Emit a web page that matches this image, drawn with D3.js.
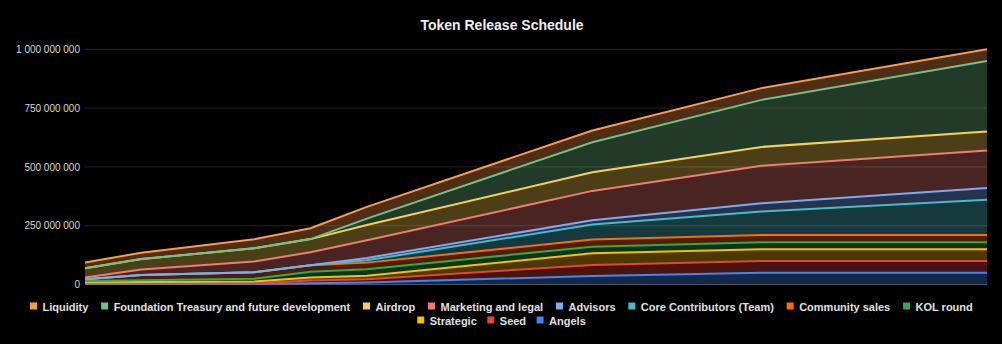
<!DOCTYPE html>
<html><head><meta charset="utf-8">
<script src="https://cdn.jsdelivr.net/npm/d3@7"></script>
<style>html,body{margin:0;padding:0;background:#000;}svg{display:block}</style>
</head><body><svg id="c" width="1002" height="344"></svg>
<script>
// x positions: months since TGE
const months = [0, 3, 9, 12, 15, 27, 36, 48];
// series values in millions of tokens (cumulative released), bottom of stack first
const angels      = [2, 2, 2, 5, 9, 36, 50, 50];
const seed        = [3, 3, 3, 12, 13, 47, 50, 50];
const strategic   = [5, 6, 8, 13, 15, 50, 50, 50];
const kolRound    = [5, 7, 11, 24, 28, 28, 30, 30];
const community   = [7, 22, 28, 28, 28, 30, 30, 30];
const core        = [0, 0, 0, 0, 10, 64, 100, 150];
const advisors    = [0, 0, 0, 0, 10, 18, 35, 50];
const marketing   = [8, 24, 46, 55, 75, 125, 160, 160];
const airdrop     = [39, 44, 56, 56, 65, 79, 80, 80];
const foundation  = [0, 0, 0, 0, 27, 128, 200, 300];
const liquidity   = [25, 27, 38, 46, 50, 50, 50, 50];

const seriesNames = ["Angels", "Seed", "Strategic", "KOL round", "Community sales",
  "Core Contributors (Team)", "Advisors", "Marketing and legal", "Airdrop",
  "Foundation Treasury and future development", "Liquidity"];
const seriesValues = [angels, seed, strategic, kolRound, community, core, advisors,
  marketing, airdrop, foundation, liquidity];
const colors = ["#4285F4", "#EA4335", "#FBBC04", "#34A853", "#FF6D01", "#46BDC6",
  "#7BAAF7", "#F07B72", "#FCD04F", "#71C287", "#FF994D"];
const yTicks = [0, 250000000, 500000000, 750000000, 1000000000];
const chartTitle = "Token Release Schedule";

const svg = d3.select("#c");
const plotL = 85, plotR = 987, plotT = 49.3, plotB = 284.5;

const rows = months.map((m, i) => {
  const r = { month: m };
  seriesNames.forEach((n, k) => { r[n] = seriesValues[k][i] * 1e6; });
  return r;
});

const x = d3.scaleLinear().domain([0, 48]).range([plotL, plotR]);
const y = d3.scaleLinear().domain([0, 1000000000]).range([plotB, plotT]);

const stacked = d3.stack().keys(seriesNames)(rows);

// gridlines
const grid = svg.append("g");
yTicks.forEach(t => {
  if (t === 0) return;
  grid.append("line").attr("x1", plotL).attr("x2", plotR)
    .attr("y1", y(t)).attr("y2", y(t))
    .attr("stroke", "#222").attr("stroke-width", 1);
});

// y axis labels
const yAxis = d3.axisLeft(y).tickValues(yTicks)
  .tickFormat(v => d3.format(",")(v).replace(/,/g, " "))
  .tickSize(0).tickPadding(5);
const ya = svg.append("g").attr("transform", `translate(${plotL},0)`).call(yAxis);
ya.select(".domain").remove();
ya.selectAll("text").attr("fill", "#d8d8d8")
  .style("font-family", "'Liberation Sans', Arial, sans-serif").style("font-size", "10px");

// areas
const area = d3.area().x(d => x(d.data.month)).y0(d => y(d[0])).y1(d => y(d[1]));
svg.append("g").selectAll("path").data(stacked).join("path")
  .attr("d", area).attr("fill", (d, i) => colors[i]).attr("fill-opacity", 0.3);

// baseline
svg.append("line").attr("x1", plotL).attr("x2", plotR).attr("y1", y(0)).attr("y2", y(0))
  .attr("stroke", "#555").attr("stroke-width", 1);

// lines
const line = d3.line().x(d => x(d.data.month)).y(d => y(d[1]));
svg.append("g").selectAll("path").data(stacked).join("path")
  .attr("d", line).attr("fill", "none").attr("stroke", (d, i) => colors[i])
  .attr("stroke-width", 2).attr("stroke-linejoin", "round");

// title
svg.append("text").attr("x", 502).attr("y", 30).attr("text-anchor", "middle")
  .attr("fill", "#eeeeee").style("font-family", "'Liberation Sans', Arial, sans-serif")
  .style("font-size", "14px").style("font-weight", "bold").text(chartTitle);

// legend
const legendOrder = seriesNames.map((n, i) => ({ name: n, color: colors[i] })).reverse();
const lg = svg.append("g");
const font = "bold 11px 'Liberation Sans', Arial, sans-serif";
const ctx = document.createElement("canvas").getContext("2d");
ctx.font = font;
const sq = 7, sqGap = 5.5, itemGap = 12.8, maxRow = 960;
const items = legendOrder.map(d => ({ ...d, w: sq + sqGap + ctx.measureText(d.name).width }));
const legendRows = [];
let cur = [], curW = 0;
items.forEach(it => {
  const add = (cur.length ? itemGap : 0) + it.w;
  if (curW + add > maxRow && cur.length) { legendRows.push({ items: cur, w: curW }); cur = []; curW = 0; }
  curW += (cur.length ? itemGap : 0) + it.w; cur.push(it);
});
if (cur.length) legendRows.push({ items: cur, w: curW });
legendRows.forEach((r, ri) => {
  const gap = ri === 0 ? itemGap : 10.5;
  const rw = r.w - (r.items.length - 1) * (itemGap - gap);
  let xx = 501.5 - rw / 2;
  const yy = 306.5 + ri * 14;
  r.items.forEach(it => {
    lg.append("rect").attr("x", xx).attr("y", yy - sq / 2 - 0.5).attr("width", sq).attr("height", sq)
      .attr("fill", it.color);
    lg.append("text").attr("x", xx + sq + sqGap).attr("y", yy + 4)
      .attr("fill", "#e0e0e0").style("font", font).text(it.name);
    xx += it.w + gap;
  });
});
</script></body></html>
